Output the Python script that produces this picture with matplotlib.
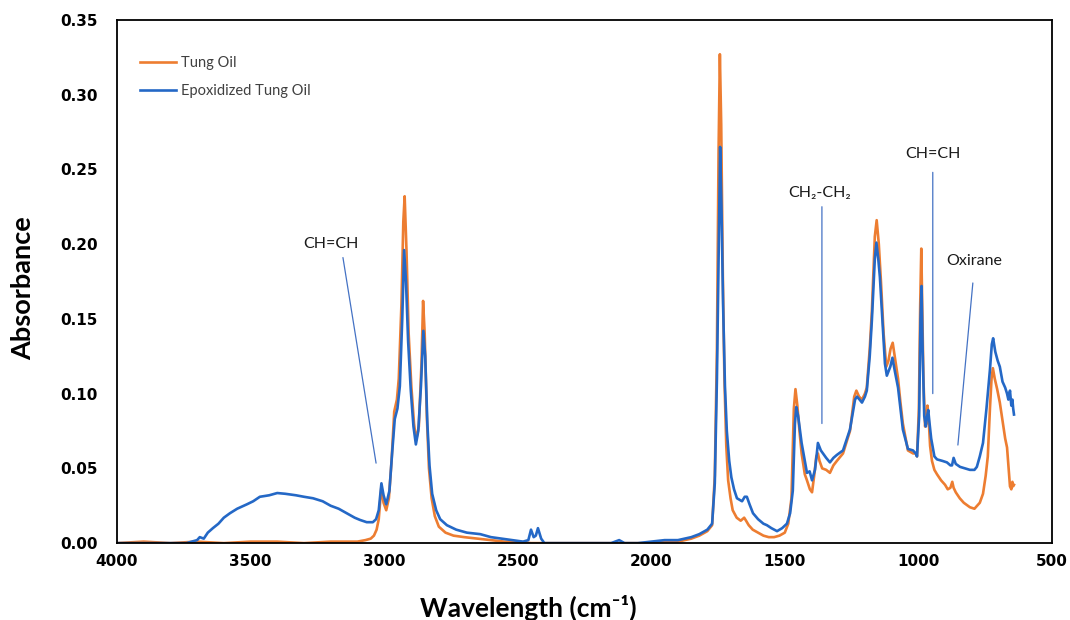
import matplotlib
matplotlib.use('Agg')
import matplotlib.pyplot as plt

# FTIR spectra (wavenumber cm-1, absorbance)
wn_tung = [4000, 3900, 3800, 3700, 3600, 3500, 3400, 3300, 3200, 3150, 3100, 3070, 3050, 3038, 3028, 3020,
           3010, 3002, 2992, 2982, 2972, 2962, 2952, 2945, 2935, 2928, 2923, 2916, 2908, 2898, 2888, 2880,
           2870, 2860, 2854, 2848, 2840, 2832, 2822, 2810, 2795, 2770, 2740, 2700, 2650, 2600, 2550, 2500,
           2450, 2400, 2300, 2200, 2100, 2000, 1950, 1900, 1850, 1820, 1790, 1772, 1762, 1754, 1748, 1743,
           1738, 1732, 1726, 1719, 1712, 1703, 1695, 1680, 1665, 1652, 1645, 1635, 1620, 1600, 1580, 1560,
           1540, 1520, 1500, 1487, 1475, 1466, 1460, 1453, 1445, 1437, 1425, 1417, 1406, 1398, 1390, 1382,
           1376, 1370, 1360, 1345, 1331, 1318, 1305, 1282, 1256, 1240, 1232, 1222, 1211, 1200, 1193, 1182,
           1174, 1163, 1156, 1148, 1140, 1130, 1120, 1112, 1104, 1096, 1086, 1076, 1067, 1058, 1039, 1020,
           1010, 1005, 998, 993, 989, 986, 981, 975, 970, 966, 962, 956, 949, 940, 930, 915,
           900, 890, 880, 873, 868, 860, 845, 830, 815, 807, 790, 770, 758, 748, 740, 732,
           726, 721, 714, 705, 695, 685, 675, 668, 663, 657, 652, 648, 645, 642]
abs_tung = [0.000, 0.001, 0.000, 0.001, 0.000, 0.001, 0.001, 0.000, 0.001, 0.001, 0.001, 0.002, 0.003, 0.005, 0.009, 0.016,
            0.038, 0.027, 0.022, 0.030, 0.055, 0.088, 0.096, 0.110, 0.160, 0.215, 0.232, 0.195, 0.140, 0.105, 0.080, 0.069,
            0.078, 0.120, 0.162, 0.140, 0.085, 0.050, 0.030, 0.018, 0.011, 0.007, 0.005, 0.004, 0.003, 0.002, 0.001, 0.001,
            0.000, 0.000, 0.000, 0.000, 0.000, 0.000, 0.001, 0.001, 0.003, 0.005, 0.008, 0.012, 0.045, 0.130, 0.260, 0.327,
            0.280, 0.180, 0.110, 0.065, 0.042, 0.030, 0.022, 0.017, 0.015, 0.017, 0.015, 0.012, 0.009, 0.007, 0.005, 0.004,
            0.004, 0.005, 0.007, 0.013, 0.030, 0.090, 0.103, 0.092, 0.075, 0.060, 0.046, 0.042, 0.036, 0.034, 0.045, 0.058,
            0.060, 0.055, 0.050, 0.049, 0.047, 0.052, 0.055, 0.060, 0.075, 0.098, 0.102, 0.098, 0.096, 0.100, 0.104, 0.130,
            0.155, 0.205, 0.216, 0.200, 0.175, 0.140, 0.118, 0.122, 0.130, 0.134, 0.122, 0.110, 0.094, 0.080, 0.062, 0.060,
            0.060, 0.058, 0.090, 0.160, 0.197, 0.165, 0.110, 0.078, 0.080, 0.092, 0.085, 0.065, 0.055, 0.049, 0.046, 0.042,
            0.039, 0.036, 0.037, 0.041, 0.037, 0.034, 0.030, 0.027, 0.025, 0.024, 0.023, 0.027, 0.033, 0.045, 0.058, 0.090,
            0.110, 0.117, 0.110, 0.103, 0.094, 0.082, 0.070, 0.064, 0.052, 0.038, 0.036, 0.041, 0.038, 0.039]

wn_epo = [4000, 3900, 3800, 3740, 3720, 3700, 3690, 3675, 3660, 3641, 3620, 3600, 3577, 3550, 3513, 3490,
          3465, 3430, 3400, 3370, 3330, 3300, 3266, 3230, 3200, 3170, 3140, 3110, 3090, 3065, 3042, 3030,
          3020, 3010, 3002, 2992, 2980, 2970, 2960, 2950, 2941, 2932, 2925, 2918, 2910, 2900, 2890, 2881,
          2872, 2862, 2853, 2846, 2838, 2830, 2820, 2805, 2790, 2765, 2730, 2690, 2640, 2600, 2560, 2520,
          2480, 2460, 2450, 2440, 2432, 2424, 2412, 2400, 2300, 2200, 2150, 2120, 2100, 2050, 2000, 1950,
          1900, 1850, 1820, 1790, 1772, 1762, 1754, 1747, 1742, 1737, 1731, 1724, 1717, 1708, 1700, 1690,
          1679, 1660, 1650, 1642, 1632, 1619, 1600, 1580, 1567, 1550, 1529, 1510, 1492, 1480, 1470, 1462,
          1457, 1450, 1437, 1425, 1417, 1407, 1398, 1387, 1380, 1376, 1365, 1357, 1345, 1331, 1318, 1305,
          1282, 1256, 1237, 1230, 1220, 1211, 1200, 1193, 1182, 1174, 1163, 1157, 1150, 1144, 1135, 1125,
          1118, 1105, 1097, 1088, 1076, 1067, 1058, 1039, 1020, 1010, 1005, 997, 992, 988, 984, 978,
          972, 968, 963, 958, 952, 940, 930, 910, 893, 880, 874, 868, 860, 844, 825, 807,
          790, 781, 770, 758, 745, 732, 725, 720, 712, 703, 695, 685, 675, 668, 663, 657,
          652, 648, 645, 642]
abs_epo = [0.000, 0.000, 0.000, 0.000, 0.001, 0.002, 0.004, 0.003, 0.007, 0.010, 0.013, 0.017, 0.020, 0.023, 0.026, 0.028,
           0.031, 0.032, 0.0335, 0.033, 0.032, 0.031, 0.030, 0.028, 0.025, 0.023, 0.020, 0.017, 0.0155, 0.014, 0.014, 0.016,
           0.022, 0.040, 0.032, 0.026, 0.035, 0.060, 0.083, 0.090, 0.105, 0.150, 0.196, 0.175, 0.135, 0.102, 0.078, 0.066,
           0.075, 0.105, 0.142, 0.125, 0.080, 0.052, 0.033, 0.022, 0.016, 0.012, 0.009, 0.007, 0.006, 0.004, 0.003, 0.002,
           0.001, 0.002, 0.009, 0.004, 0.005, 0.010, 0.003, 0.000, 0.000, 0.000, 0.000, 0.002, 0.000, 0.000, 0.001, 0.002,
           0.002, 0.004, 0.006, 0.009, 0.013, 0.040, 0.110, 0.200, 0.265, 0.225, 0.160, 0.105, 0.075, 0.055, 0.044, 0.036,
           0.030, 0.028, 0.031, 0.031, 0.026, 0.020, 0.016, 0.013, 0.012, 0.010, 0.008, 0.010, 0.013, 0.020, 0.035, 0.080,
           0.091, 0.085, 0.067, 0.055, 0.047, 0.048, 0.042, 0.049, 0.060, 0.067, 0.062, 0.060, 0.057, 0.054, 0.057, 0.059,
           0.062, 0.076, 0.096, 0.098, 0.096, 0.094, 0.098, 0.102, 0.125, 0.149, 0.190, 0.201, 0.190, 0.178, 0.150, 0.120,
           0.112, 0.118, 0.124, 0.115, 0.104, 0.090, 0.076, 0.063, 0.062, 0.060, 0.058, 0.085, 0.150, 0.172, 0.130, 0.085,
           0.078, 0.084, 0.089, 0.080, 0.070, 0.058, 0.056, 0.055, 0.054, 0.052, 0.052, 0.057, 0.053, 0.051, 0.050, 0.049,
           0.049, 0.051, 0.058, 0.067, 0.090, 0.116, 0.133, 0.137, 0.128, 0.122, 0.118, 0.108, 0.104, 0.100, 0.096, 0.102,
           0.092, 0.096, 0.090, 0.086]

labels = ['Tung Oil', 'Epoxidized Tung Oil']
colors = ['#ED7D31', '#2468C6']

# peak annotations: text, text position, line start, line end (data coords)
notes = [
    ('CH=CH', (3199, 0.200), (3154, 0.191), (3030, 0.0535)),
    ('CH\u2082-CH\u2082', (1368, 0.234), (1361, 0.225), (1361, 0.080)),
    ('CH=CH', (946, 0.260), (946, 0.248), (946, 0.100)),
    ('Oxirane', (792, 0.189), (796, 0.174), (852, 0.0656)),
]

fig = plt.figure(figsize=(10.7, 6.2), dpi=100)
ax = fig.add_axes([0.1093, 0.124, 0.8738, 0.844])

ax.plot(wn_tung, abs_tung, color=colors[0], lw=1.9, label=labels[0])
ax.plot(wn_epo, abs_epo, color=colors[1], lw=1.9, label=labels[1])

for txt, tpos, p0, p1 in notes:
    ax.annotate('', xy=p1, xytext=p0,
                arrowprops=dict(arrowstyle='-', color='#4472C4', lw=0.9, shrinkA=0, shrinkB=0))
    ax.text(tpos[0], tpos[1], txt, ha='center', va='center', fontsize=11.5,
            family=['Lato', 'DejaVu Sans'], color='#1a1a1a')

ax.set_xlim(4000, 500)
ax.set_ylim(0, 0.35)
ax.set_xticks([4000, 3500, 3000, 2500, 2000, 1500, 1000, 500])
ax.set_yticks([0, 0.05, 0.10, 0.15, 0.20, 0.25, 0.30, 0.35])
ax.yaxis.set_major_formatter(matplotlib.ticker.FormatStrFormatter('%.2f'))
ax.tick_params(axis='x', length=0, pad=8, labelsize=11)
ax.tick_params(axis='y', length=0, pad=14, labelsize=11)
for lab in ax.get_xticklabels() + ax.get_yticklabels():
    lab.set_fontweight('bold')

for s in ax.spines.values():
    s.set_color('black')
    s.set_linewidth(1.3)

fig.text(0.022, 0.535, 'Absorbance', rotation=90, ha='center', va='center',
         fontsize=19.5, fontweight='bold', family=['Lato', 'DejaVu Sans'])
fig.text(0.494, 0.02, 'Wavelength (cm\u207b\u00b9)', ha='center', va='center',
         fontsize=19, fontweight='bold', family=['Lato', 'DejaVu Sans'])

leg = ax.legend(loc='upper left', bbox_to_anchor=(0.0246, 0.931), frameon=False,
                borderpad=0, borderaxespad=0, handlelength=2.5, handletextpad=0.3,
                labelspacing=0.95, prop={'family': 'Lato', 'size': 10.5})
for t in leg.get_texts():
    t.set_color('#404040')

fig.savefig('out.png', dpi=100)
